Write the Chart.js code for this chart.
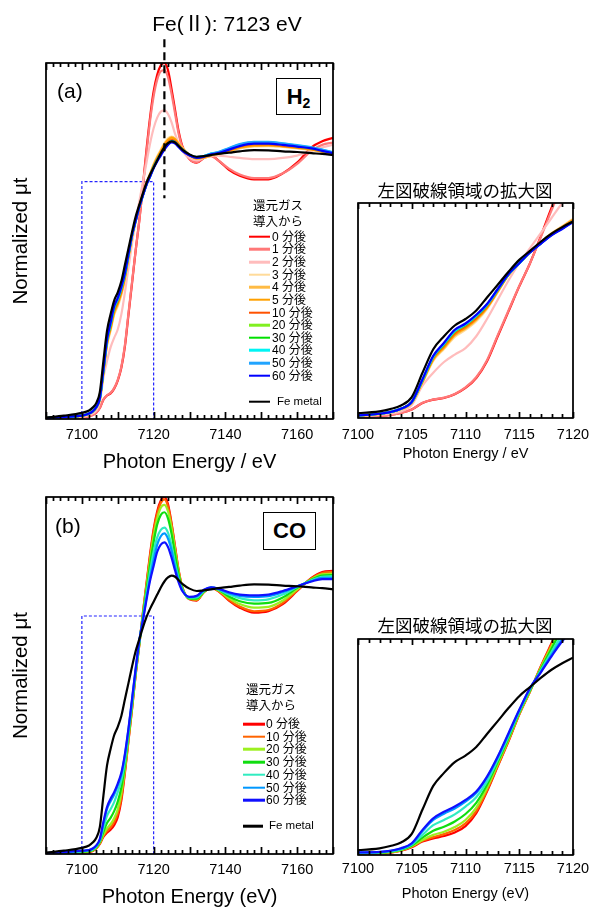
<!DOCTYPE html>
<html>
<head>
<meta charset="utf-8">
<title>Fe K-edge XANES</title>
<script src="https://cdn.jsdelivr.net/npm/chart.js@4.4.1/dist/chart.umd.min.js"></script>
<style>
body{margin:0;background:#fff;}
#lienzo{position:relative;width:591px;height:907px;overflow:hidden;font-family:"Liberation Sans",Arial,"Noto Sans CJK JP",sans-serif;color:#000;}
#lienzo canvas{position:absolute;}
#lienzo canvas.marcas{z-index:1;pointer-events:none;}
.txt{position:absolute;white-space:nowrap;line-height:1;transform:translate(0,-50%);z-index:2;}
.cen{transform:translate(-50%,-50%);}
.jp{font-family:"Noto Sans CJK JP",sans-serif;}
.caja{position:absolute;border:1px solid #000;box-sizing:border-box;display:flex;align-items:center;justify-content:center;font-weight:bold;font-size:22px;line-height:1;z-index:2;background:#fff;}
.ley_linea{position:absolute;height:2.6px;transform:translate(0,-50%);z-index:2;}
</style>
</head>
<body>
<div id="lienzo">
	<canvas id="graf_h2" width="340" height="480" style="left:0;top:0"></canvas>
	<canvas id="graf_h2_marcas" class="marcas" width="340" height="480" style="left:0;top:0"></canvas>
	<canvas id="graf_h2_zoom" width="251" height="300" style="left:340px;top:170px"></canvas>
	<canvas id="graf_h2_zoom_marcas" class="marcas" width="251" height="300" style="left:340px;top:170px"></canvas>
	<canvas id="graf_co" width="340" height="427" style="left:0;top:480px"></canvas>
	<canvas id="graf_co_marcas" class="marcas" width="340" height="427" style="left:0;top:480px"></canvas>
	<canvas id="graf_co_zoom" width="251" height="297" style="left:340px;top:610px"></canvas>
	<canvas id="graf_co_zoom_marcas" class="marcas" width="251" height="297" style="left:340px;top:610px"></canvas>

	<div class="txt cen" style="left:227px;top:23px;font-size:21px">Fe(<span class="jp">Ⅱ</span>): 7123 eV</div>
	<div class="txt" style="left:57px;top:90px;font-size:21px">(a)</div>
	<div class="caja" style="left:276px;top:78px;width:45px;height:37px">H<span style="font-size:14px;position:relative;top:6px">2</span></div>
	<div class="txt" style="left:55px;top:525px;font-size:21px">(b)</div>
	<div class="caja" style="left:263px;top:512px;width:53px;height:38px">CO</div>
	<div class="txt cen jp" style="left:465px;top:190px;font-size:17.5px">左図破線領域の拡大図</div>
	<div class="txt cen jp" style="left:465px;top:625px;font-size:17.5px">左図破線領域の拡大図</div>
	<div id="leyenda_h2"></div>
	<div id="leyenda_co"></div>
</div>
<script>
// energia comun (eV) para todos los espectros
var energia = [7090, 7095, 7100, 7102, 7103, 7104, 7105, 7106, 7107, 7108,
	7109, 7110, 7111, 7112, 7113, 7114, 7115, 7116, 7117, 7118,
	7119, 7120, 7121, 7122, 7123, 7124, 7125, 7126, 7127, 7128,
	7130, 7132, 7134, 7136, 7138, 7141, 7144, 7148, 7152, 7156,
	7160, 7164, 7167, 7170];

// Fe metal (referencia, igual en los dos paneles)
var fe_metal = [0.006, 0.014, 0.026, 0.036, 0.048, 0.067, 0.113, 0.244, 0.371, 0.441,
	0.499, 0.534, 0.58, 0.65, 0.719, 0.789, 0.853, 0.902, 0.951, 0.995,
	1.03, 1.06, 1.09, 1.12, 1.145, 1.162, 1.17, 1.165, 1.15, 1.135,
	1.115, 1.105, 1.108, 1.112, 1.117, 1.122, 1.128, 1.133, 1.132, 1.128,
	1.125, 1.12, 1.117, 1.112];

// H2
var h2_0 = [0.002, 0.004, 0.006, 0.012, 0.017, 0.027, 0.046, 0.081, 0.099, 0.108,
	0.128, 0.162, 0.216, 0.306, 0.441, 0.575, 0.71, 0.835, 0.98, 1.133,
	1.27, 1.38, 1.45, 1.49, 1.50, 1.47, 1.39, 1.30, 1.21, 1.15,
	1.095, 1.08, 1.10, 1.11, 1.09, 1.05, 1.025, 1.01, 1.01, 1.035,
	1.08, 1.145, 1.17, 1.185];
var h2_1 = [0.002, 0.004, 0.006, 0.012, 0.017, 0.027, 0.046, 0.082, 0.1, 0.11,
	0.13, 0.165, 0.22, 0.312, 0.447, 0.58, 0.712, 0.835, 0.975, 1.12,
	1.255, 1.36, 1.43, 1.465, 1.47, 1.44, 1.37, 1.285, 1.2, 1.145,
	1.095, 1.082, 1.1, 1.108, 1.09, 1.055, 1.03, 1.015, 1.015, 1.035,
	1.075, 1.13, 1.155, 1.165];
var h2_2 = [0.003, 0.006, 0.009, 0.017, 0.023, 0.035, 0.07, 0.174, 0.244, 0.302,
	0.342, 0.377, 0.441, 0.534, 0.638, 0.742, 0.835, 0.916, 0.998, 1.079,
	1.16, 1.225, 1.27, 1.295, 1.30, 1.285, 1.25, 1.20, 1.16, 1.13,
	1.10, 1.09, 1.10, 1.11, 1.11, 1.105, 1.10, 1.095, 1.095, 1.10,
	1.11, 1.13, 1.145, 1.155];
var h2_3 = [0.004, 0.008, 0.012, 0.021, 0.03, 0.046, 0.08, 0.19, 0.308, 0.372,
	0.438, 0.475, 0.522, 0.588, 0.679, 0.771, 0.836, 0.898, 0.949, 0.997,
	1.035, 1.074, 1.107, 1.135, 1.163, 1.183, 1.19, 1.182, 1.162, 1.143,
	1.112, 1.096, 1.1, 1.11, 1.116, 1.126, 1.14, 1.149, 1.15, 1.146,
	1.14, 1.133, 1.125, 1.116];
var h2_4 = [0.004, 0.009, 0.013, 0.022, 0.031, 0.048, 0.082, 0.194, 0.314, 0.378,
	0.445, 0.482, 0.529, 0.593, 0.682, 0.772, 0.836, 0.897, 0.947, 0.995,
	1.032, 1.07, 1.103, 1.13, 1.158, 1.178, 1.188, 1.18, 1.16, 1.142,
	1.112, 1.097, 1.101, 1.111, 1.117, 1.128, 1.142, 1.151, 1.152, 1.148,
	1.142, 1.135, 1.126, 1.117];
var h2_5 = [0.004, 0.009, 0.013, 0.022, 0.031, 0.048, 0.083, 0.196, 0.318, 0.382,
	0.45, 0.487, 0.533, 0.596, 0.684, 0.772, 0.835, 0.896, 0.946, 0.993,
	1.03, 1.068, 1.1, 1.127, 1.155, 1.175, 1.185, 1.178, 1.158, 1.14,
	1.112, 1.098, 1.102, 1.112, 1.118, 1.13, 1.144, 1.153, 1.154, 1.15,
	1.143, 1.136, 1.127, 1.118];
var h2_10 = [0.004, 0.009, 0.014, 0.023, 0.032, 0.05, 0.085, 0.2, 0.324, 0.39,
	0.458, 0.494, 0.54, 0.602, 0.688, 0.773, 0.835, 0.895, 0.944, 0.99,
	1.026, 1.063, 1.094, 1.12, 1.146, 1.166, 1.176, 1.17, 1.153, 1.137,
	1.112, 1.1, 1.104, 1.114, 1.12, 1.133, 1.148, 1.158, 1.158, 1.152,
	1.145, 1.138, 1.128, 1.118];
var h2_20 = [0.004, 0.009, 0.014, 0.023, 0.032, 0.05, 0.085, 0.202, 0.328, 0.396,
	0.466, 0.501, 0.548, 0.608, 0.691, 0.774, 0.835, 0.894, 0.943, 0.989,
	1.024, 1.061, 1.091, 1.117, 1.142, 1.162, 1.172, 1.166, 1.15, 1.135,
	1.112, 1.102, 1.106, 1.116, 1.122, 1.136, 1.152, 1.162, 1.162, 1.156,
	1.148, 1.14, 1.13, 1.12];
var h2_30 = [0.004, 0.009, 0.014, 0.023, 0.032, 0.05, 0.086, 0.204, 0.33, 0.398,
	0.468, 0.503, 0.55, 0.61, 0.692, 0.775, 0.835, 0.894, 0.942, 0.988,
	1.023, 1.06, 1.09, 1.116, 1.14, 1.16, 1.17, 1.165, 1.15, 1.135,
	1.112, 1.102, 1.107, 1.117, 1.123, 1.138, 1.154, 1.164, 1.164, 1.158,
	1.15, 1.142, 1.132, 1.122];
var h2_40 = [0.004, 0.009, 0.014, 0.023, 0.032, 0.05, 0.086, 0.205, 0.331, 0.40,
	0.47, 0.505, 0.552, 0.611, 0.693, 0.775, 0.835, 0.894, 0.942, 0.988,
	1.023, 1.06, 1.09, 1.116, 1.14, 1.16, 1.17, 1.165, 1.15, 1.135,
	1.113, 1.103, 1.108, 1.118, 1.124, 1.14, 1.156, 1.166, 1.166, 1.16,
	1.152, 1.144, 1.134, 1.123];
var h2_50 = [0.004, 0.009, 0.014, 0.023, 0.032, 0.05, 0.086, 0.206, 0.332, 0.402,
	0.472, 0.506, 0.553, 0.612, 0.694, 0.776, 0.835, 0.894, 0.942, 0.988,
	1.023, 1.06, 1.09, 1.116, 1.14, 1.16, 1.17, 1.165, 1.15, 1.135,
	1.113, 1.103, 1.108, 1.118, 1.125, 1.142, 1.158, 1.168, 1.168, 1.162,
	1.154, 1.145, 1.135, 1.124];
var h2_60 = [0.004, 0.009, 0.014, 0.023, 0.032, 0.05, 0.087, 0.209, 0.336, 0.406,
	0.476, 0.51, 0.557, 0.615, 0.696, 0.777, 0.835, 0.893, 0.94, 0.986,
	1.02, 1.056, 1.085, 1.11, 1.135, 1.155, 1.165, 1.16, 1.145, 1.13,
	1.11, 1.10, 1.105, 1.115, 1.12, 1.135, 1.15, 1.16, 1.16, 1.155,
	1.148, 1.14, 1.13, 1.12];

// CO
var co_0 = [0.002, 0.004, 0.006, 0.009, 0.013, 0.023, 0.042, 0.072, 0.089, 0.102,
	0.121, 0.155, 0.224, 0.341, 0.476, 0.61, 0.754, 0.878, 1.013, 1.137,
	1.26, 1.365, 1.44, 1.485, 1.50, 1.47, 1.39, 1.29, 1.19, 1.12,
	1.07, 1.065, 1.1, 1.118, 1.105, 1.065, 1.035, 1.014, 1.02, 1.05,
	1.105, 1.16, 1.185, 1.19];
var co_10 = [0.002, 0.004, 0.006, 0.009, 0.013, 0.024, 0.044, 0.076, 0.096, 0.112,
	0.134, 0.17, 0.236, 0.348, 0.48, 0.613, 0.755, 0.878, 1.01, 1.13,
	1.25, 1.355, 1.43, 1.475, 1.49, 1.46, 1.385, 1.285, 1.188, 1.12,
	1.071, 1.067, 1.1, 1.118, 1.106, 1.068, 1.04, 1.02, 1.025, 1.055,
	1.108, 1.158, 1.18, 1.185];
var co_20 = [0.003, 0.005, 0.008, 0.011, 0.015, 0.026, 0.047, 0.081, 0.108, 0.125,
	0.15, 0.188, 0.255, 0.36, 0.488, 0.62, 0.76, 0.88, 1.005, 1.12,
	1.235, 1.335, 1.41, 1.455, 1.467, 1.44, 1.37, 1.275, 1.182, 1.118,
	1.072, 1.07, 1.1, 1.118, 1.108, 1.075, 1.05, 1.035, 1.038, 1.065,
	1.112, 1.155, 1.175, 1.178];
var co_30 = [0.003, 0.006, 0.009, 0.012, 0.017, 0.028, 0.051, 0.093, 0.13, 0.152,
	0.18, 0.22, 0.28, 0.377, 0.5, 0.628, 0.765, 0.885, 0.998, 1.108,
	1.215, 1.31, 1.385, 1.425, 1.436, 1.41, 1.345, 1.255, 1.172, 1.115,
	1.074, 1.073, 1.102, 1.118, 1.11, 1.082, 1.062, 1.052, 1.055, 1.078,
	1.118, 1.152, 1.17, 1.172];
var co_40 = [0.003, 0.007, 0.011, 0.014, 0.019, 0.031, 0.056, 0.108, 0.16, 0.188,
	0.218, 0.26, 0.31, 0.394, 0.512, 0.638, 0.77, 0.89, 0.99, 1.09,
	1.185, 1.27, 1.33, 1.362, 1.371, 1.35, 1.295, 1.22, 1.155, 1.11,
	1.077, 1.078, 1.105, 1.118, 1.112, 1.09, 1.075, 1.066, 1.07, 1.09,
	1.122, 1.15, 1.165, 1.167];
var co_50 = [0.004, 0.008, 0.013, 0.016, 0.022, 0.034, 0.06, 0.128, 0.188, 0.222,
	0.25, 0.287, 0.333, 0.415, 0.525, 0.648, 0.776, 0.894, 0.984, 1.075,
	1.16, 1.235, 1.3, 1.335, 1.347, 1.325, 1.275, 1.205, 1.148, 1.108,
	1.079, 1.082, 1.108, 1.12, 1.114, 1.096, 1.084, 1.08, 1.083, 1.1,
	1.124, 1.147, 1.16, 1.16];
var co_60 = [0.004, 0.008, 0.014, 0.017, 0.023, 0.036, 0.063, 0.135, 0.197, 0.232,
	0.26, 0.296, 0.341, 0.421, 0.529, 0.654, 0.78, 0.897, 0.98, 1.067,
	1.148, 1.21, 1.27, 1.30, 1.309, 1.29, 1.245, 1.19, 1.14, 1.105,
	1.08, 1.085, 1.11, 1.12, 1.115, 1.1, 1.09, 1.087, 1.09, 1.105,
	1.125, 1.145, 1.155, 1.155];

var etiquetas_h2 = ['0 分後', '1 分後', '2 分後', '3 分後', '4 分後', '5 分後', '10 分後', '20 分後', '30 分後', '40 分後', '50 分後', '60 分後'];
var colores_h2 = ['#ff0000', '#ff7878', '#ffbcbc', '#ffdb9a', '#ffbb44', '#ffa000', '#ff5200', '#80f020', '#00e000', '#00f4f4', '#20a4ff', '#0000ff'];
var valores_h2 = [h2_0, h2_1, h2_2, h2_3, h2_4, h2_5, h2_10, h2_20, h2_30, h2_40, h2_50, h2_60];

var etiquetas_co = ['0 分後', '10 分後', '20 分後', '30 分後', '40 分後', '50 分後', '60 分後'];
var colores_co = ['#ff0000', '#ff6400', '#9cf020', '#10dd10', '#30ecc0', '#0098ff', '#1010ff'];
var valores_co = [co_0, co_10, co_20, co_30, co_40, co_50, co_60];

// ticks con etiqueta
var ticks_izq = [7100, 7120, 7140, 7160];
var ticks_der = [7100, 7105, 7110, 7115, 7120];
// recuadro de ampliacion y linea Fe(II)
var caja_x = [7100, 7120];
var caja_y = [0, 1.0];
var linea_fe2_x = 7123;
var linea_fe2_y = [0.93, 1.60];

Chart.defaults.font.family = "'Liberation Sans', Arial, sans-serif";
Chart.defaults.color = '#000';

function sec_serie(valores, color, ancho){
	return {
		data: energia.map(function(e, i){ return {x: e, y: valores[i]}; }),
		borderColor: color,
		borderWidth: ancho || 2,
		pointRadius: 0,
		fill: false,
		cubicInterpolationMode: 'monotone'
	};
}

function sec_series(valores, colores){
	var lista = [sec_serie(fe_metal, '#000000', 2.2)];
	for (var i = valores.length - 1; i >= 0; i--) {
		lista.push(sec_serie(valores[i], colores[i], 2.2));
	}
	return lista;
}

function sec_caja(){
	return {
		data: [{x: caja_x[0], y: caja_y[0]}, {x: caja_x[0], y: caja_y[1]}, {x: caja_x[1], y: caja_y[1]}, {x: caja_x[1], y: caja_y[0]}],
		borderColor: '#2424ff', borderWidth: 1.2, borderDash: [3, 2], pointRadius: 0, tension: 0, fill: false
	};
}

function sec_linea_fe2(){
	return {
		data: [{x: linea_fe2_x, y: linea_fe2_y[1]}, {x: linea_fe2_x, y: linea_fe2_y[0]}],
		borderColor: '#000', borderWidth: 2.2, borderDash: [8, 5], pointRadius: 0, tension: 0, fill: false, clip: false
	};
}

// dibuja marco y ticks hacia adentro (arriba y abajo) en un contexto
function sec_dibujar_marco(ctx, a, x, menor, mayor, largo_menor, largo_mayor){
	var pasos = Math.round((x.max - x.min) / menor);
	ctx.save();
	ctx.setLineDash([]);
	ctx.globalAlpha = 1;
	ctx.strokeStyle = '#000';
	ctx.lineWidth = 1.4;
	for (var k = 0; k <= pasos; k++) {
		var v = x.min + k * menor;
		var px = Math.round(x.getPixelForValue(v)) + 0.5;
		var l = (Math.round(v) % mayor === 0) ? largo_mayor : largo_menor;
		ctx.beginPath();
		ctx.moveTo(px, a.bottom);
		ctx.lineTo(px, a.bottom - l);
		ctx.moveTo(px, a.top);
		ctx.lineTo(px, a.top + l);
		ctx.stroke();
	}
	ctx.lineWidth = 1.3;
	ctx.strokeRect(a.left, a.top, a.right - a.left, a.bottom - a.top);
	ctx.restore();
}

function sec_marco(menor, mayor, largo_menor, largo_mayor){
	return {
		id: 'marco',
		afterDraw: function(chart){
			var a = chart.chartArea, x = chart.scales.x;
			sec_dibujar_marco(chart.ctx, a, x, menor, mayor, largo_menor, largo_mayor);
			// copia en el lienzo superpuesto
			var capa = document.getElementById(chart.canvas.id + '_marcas');
			if (capa) {
				var c2 = capa.getContext('2d');
				c2.clearRect(0, 0, capa.width, capa.height);
				sec_dibujar_marco(c2, a, x, menor, mayor, largo_menor, largo_mayor);
			}
		}
	};
}

function sec_grafico_izq(id, datasets, cfg){
	console.log("sec_grafico_izq", id);
	return new Chart(document.getElementById(id), {
		type: 'line',
		data: {datasets: datasets},
		options: {
			responsive: false,
			animation: false,
			layout: {padding: {left: 0, top: cfg.arriba, right: 7, bottom: 0}},
			plugins: {legend: {display: false}, tooltip: {enabled: false}},
			scales: {
				x: {
					type: 'linear', min: 7090, max: 7170,
					afterBuildTicks: function(s){ s.ticks = ticks_izq.map(function(v){ return {value: v}; }); },
					afterFit: function(s){ s.height = cfg.alto_x; s.paddingLeft = 0; s.paddingRight = 0; },
					ticks: {callback: function(v){ return String(v); }, font: {size: 14.5, lineHeight: 1}, padding: cfg.pad_ticks, maxRotation: 0, autoSkip: false},
					grid: {display: false, drawTicks: false},
					border: {display: false},
					title: {display: true, text: cfg.titulo_x, font: {size: 20, lineHeight: 1}, padding: {top: 0, bottom: cfg.pad_titulo}}
				},
				y: {
					type: 'linear', min: 0, max: 1.5,
					afterFit: function(s){ s.width = 46; },
					ticks: {display: false},
					grid: {display: false, drawTicks: false},
					border: {display: false},
					title: {display: true, text: 'Normalized μt', font: {size: 20.5, lineHeight: 1}, padding: {top: 11, bottom: 0}}
				}
			}
		},
		plugins: [sec_marco(2, 10, 4, 7)]
	});
}

function sec_grafico_der(id, datasets, cfg){
	console.log("sec_grafico_der", id);
	return new Chart(document.getElementById(id), {
		type: 'line',
		data: {datasets: datasets},
		options: {
			responsive: false,
			animation: false,
			layout: {padding: {left: 18, top: cfg.arriba, right: 18, bottom: 0}},
			plugins: {legend: {display: false}, tooltip: {enabled: false}},
			scales: {
				x: {
					type: 'linear', min: 7100, max: 7120,
					afterBuildTicks: function(s){ s.ticks = ticks_der.map(function(v){ return {value: v}; }); },
					afterFit: function(s){ s.height = cfg.alto_x; s.paddingLeft = 0; s.paddingRight = 0; },
					ticks: {callback: function(v){ return String(v); }, font: {size: 14.5, lineHeight: 1}, padding: cfg.pad_ticks, maxRotation: 0, autoSkip: false},
					grid: {display: false, drawTicks: false},
					border: {display: false},
					title: {display: true, text: cfg.titulo_x, font: {size: 14.5, lineHeight: 1}, padding: {top: 0, bottom: cfg.pad_titulo}}
				},
				y: {type: 'linear', min: 0, max: 1.16, display: false}
			}
		},
		plugins: [sec_marco(1, 5, 4, 6)]
	});
}

function sec_leyenda(id, cfg, etiquetas, colores){
	var cont = document.getElementById(id);
	var html = '';
	html += '<div class="txt jp" style="left:' + cfg.x_titulo + 'px;top:' + cfg.y_titulo + 'px;font-size:12.5px">還元ガス</div>';
	html += '<div class="txt jp" style="left:' + cfg.x_titulo + 'px;top:' + (cfg.y_titulo + 16) + 'px;font-size:12.5px">導入から</div>';
	for (var i = 0; i < etiquetas.length; i++) {
		var y = cfg.y0 + i * cfg.paso;
		html += '<div class="ley_linea" style="left:' + cfg.x_linea + 'px;top:' + y + 'px;width:' + cfg.ancho + 'px;background:' + colores[i] + '"></div>';
		html += '<div class="txt" style="left:' + cfg.x_texto + 'px;top:' + y + 'px;font-size:12px">' + etiquetas[i] + '</div>';
	}
	html += '<div class="ley_linea" style="left:' + cfg.x_linea + 'px;top:' + cfg.y_fe + 'px;width:' + cfg.ancho_fe + 'px;background:#000"></div>';
	html += '<div class="txt" style="left:' + cfg.x_fe + 'px;top:' + cfg.y_fe + 'px;font-size:11.5px">Fe metal</div>';
	cont.innerHTML = html;
}

function sec_xanes(){
	console.log("sec_xanes");
	var izq_h2 = [sec_linea_fe2()].concat(sec_series(valores_h2, colores_h2)).concat([sec_caja()]);
	var izq_co = sec_series(valores_co, colores_co).concat([sec_caja()]);

	sec_grafico_izq('graf_h2', izq_h2, {arriba: 63, alto_x: 61, pad_ticks: 9, pad_titulo: 8, titulo_x: 'Photon Energy / eV'});
	sec_grafico_izq('graf_co', izq_co, {arriba: 17, alto_x: 53, pad_ticks: 9, pad_titulo: 0, titulo_x: 'Photon Energy (eV)'});
	sec_grafico_der('graf_h2_zoom', sec_series(valores_h2, colores_h2), {arriba: 33, alto_x: 52, pad_ticks: 10, pad_titulo: 9, titulo_x: 'Photon Energy / eV'});
	sec_grafico_der('graf_co_zoom', sec_series(valores_co, colores_co), {arriba: 29, alto_x: 52, pad_ticks: 7, pad_titulo: 6, titulo_x: 'Photon Energy (eV)'});

	sec_leyenda('leyenda_h2', {x_titulo: 253, y_titulo: 205, y0: 236.7, paso: 12.64, x_linea: 249, ancho: 21, x_texto: 272, y_fe: 401.7, ancho_fe: 21, x_fe: 277}, etiquetas_h2, colores_h2);
	sec_leyenda('leyenda_co', {x_titulo: 246, y_titulo: 689, y0: 724, paso: 12.7, x_linea: 243, ancho: 22, x_texto: 266, y_fe: 826, ancho_fe: 20, x_fe: 269}, etiquetas_co, colores_co);
}
sec_xanes();
</script>
</body>
</html>
